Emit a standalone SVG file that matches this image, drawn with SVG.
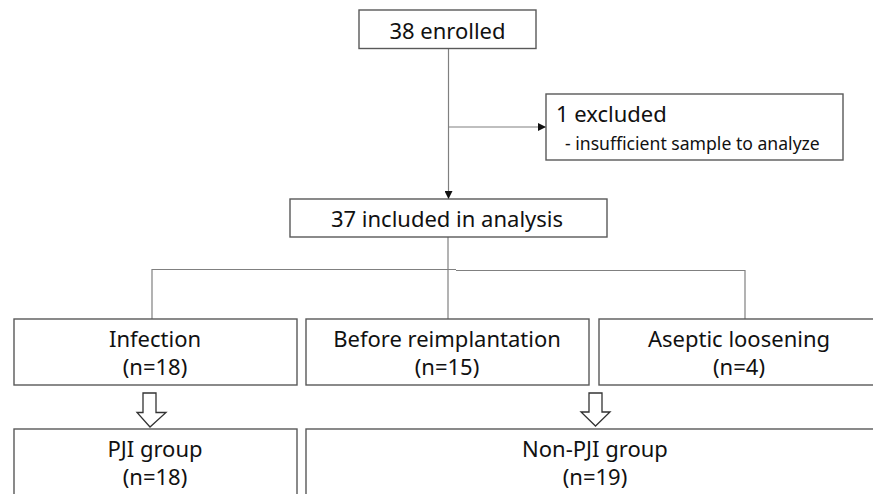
<svg xmlns="http://www.w3.org/2000/svg" width="873" height="494" viewBox="0 0 873 494">
<style>
.box{fill:#fff;stroke:#595959;stroke-width:1.4}
.t{font-family:"Noto Sans","Liberation Sans",sans-serif;font-size:22px;fill:#111;text-anchor:middle}
.s{font-family:"Noto Sans","Liberation Sans",sans-serif;font-size:17.6px;fill:#111}
.c{fill:none;stroke:#808080;stroke-width:1.2}
.h{fill:#fff;stroke:#333;stroke-width:1.3}
</style>
<defs>
<marker id="ah" viewBox="0 0 10 10" refX="10" refY="5" markerWidth="8" markerHeight="8" markerUnits="userSpaceOnUse" orient="auto">
<path d="M0,0 L10,5 L0,10 z" fill="#111"/>
</marker>
</defs>
<rect width="873" height="494" fill="#fff"/>
<g id="connectors">
<line class="c" x1="448.5" y1="49" x2="448.5" y2="199" marker-end="url(#ah)"/>
<line class="c" x1="448.5" y1="127" x2="546" y2="127" marker-end="url(#ah)"/>
<line class="c" x1="448" y1="237" x2="448" y2="319"/>
<polyline class="c" points="152,319 152,269.5 456,269.5"/>
<polyline class="c" points="456,270.5 745,270.5 745,319"/>
<polygon class="h" points="143,393 156,393 156,412.5 166,412.5 150,427 137,412.5 143,412.5"/>
<polygon class="h" points="589,393 602,393 602,412 610,412 595.5,426 581,412 589,412"/>
</g>
<g id="enrolled">
<rect class="box" x="359" y="10" width="177" height="38.5"/>
<text class="t" x="447.5" y="39">38 enrolled</text>
</g>
<g id="excluded">
<rect class="box" x="546" y="94" width="297" height="66"/>
<text class="t" x="556" y="122" style="text-anchor:start">1 excluded</text>
<text class="s" x="565" y="150">- insufficient sample to analyze</text>
</g>
<g id="included">
<rect class="box" x="290" y="199" width="317" height="38"/>
<text class="t" x="447" y="227">37 included in analysis</text>
</g>
<g id="infection">
<rect class="box" x="14" y="319" width="283" height="66"/>
<text class="t" x="155" y="347">Infection</text>
<text class="t" x="155" y="375">(n=18)</text>
</g>
<g id="reimplantation">
<rect class="box" x="306" y="319" width="283" height="66"/>
<text class="t" x="447" y="347">Before reimplantation</text>
<text class="t" x="447" y="375">(n=15)</text>
</g>
<g id="aseptic">
<rect class="box" x="599" y="319" width="290" height="66"/>
<text class="t" x="739" y="347">Aseptic loosening</text>
<text class="t" x="739" y="375">(n=4)</text>
</g>
<g id="pji">
<rect class="box" x="14" y="429" width="283" height="80"/>
<text class="t" x="155" y="457">PJI group</text>
<text class="t" x="155" y="485">(n=18)</text>
</g>
<g id="nonpji">
<rect class="box" x="306" y="429" width="583" height="80"/>
<text class="t" x="595" y="457">Non-PJI group</text>
<text class="t" x="595" y="485">(n=19)</text>
</g>
</svg>
